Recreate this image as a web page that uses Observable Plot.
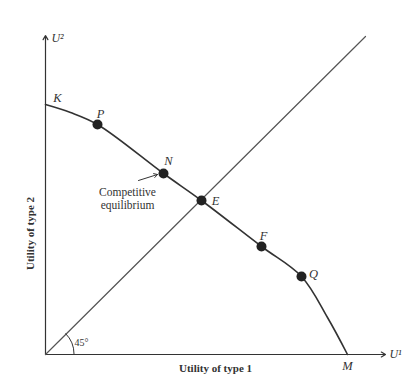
<!DOCTYPE html>
<html>
<head>
<meta charset="utf-8">
<script src="https://cdn.jsdelivr.net/npm/d3@7"></script>
<script src="https://cdn.jsdelivr.net/npm/@observablehq/plot@0.6"></script>
<style>
  html, body { margin: 0; padding: 0; background: #fff; }
</style>
</head>
<body>
<div id="chart"></div>
<script>
// Utility possibility frontier (U1, U2)
const frontierU1 = [0, 25, 52, 118, 156, 216, 256, 282, 302];
const frontierU2 = [250, 242, 230, 181, 154, 108, 78, 37, 0];

// Labelled points on the frontier
const pointNames = ["K", "P", "N", "E", "F", "Q", "M"];
const pointU1 = [0, 52, 118, 156, 216, 256, 302];
const pointU2 = [250, 230, 181, 154, 108, 78, 0];
const pointDot = [false, true, true, true, true, true, false];
const labelDx = [12, 3, 5, 14, 2, 12, 0];
const labelDy = [-7, -11, -13, 0, -11, -3, 11];

// 45-degree line
const diagonalU1 = [0, 320];
const diagonalU2 = [0, 318];

const frontier = frontierU1.map((u, i) => ({u1: u, u2: frontierU2[i]}));
const points = pointNames.map((n, i) => ({name: n, u1: pointU1[i], u2: pointU2[i], dot: pointDot[i], dx: labelDx[i], dy: labelDy[i]}));
const diagonal = diagonalU1.map((u, i) => ({u1: u, u2: diagonalU2[i]}));

const ink = "#333";
const serif = "'Liberation Serif', 'DejaVu Serif', serif";

const plot = Plot.plot({
  width: 404,
  height: 386,
  marginLeft: 45,
  marginRight: 19,
  marginTop: 35,
  marginBottom: 32,
  x: {domain: [0, 340], axis: null},
  y: {domain: [0, 319], axis: null},
  style: {background: "#fff", fontFamily: serif},
  marks: [
    // axes
    Plot.arrow([{x1: 0, y1: 0, x2: 340, y2: 0}], {x1: "x1", y1: "y1", x2: "x2", y2: "y2", stroke: ink, strokeWidth: 1.2, headLength: 6}),
    Plot.arrow([{x1: 0, y1: 0, x2: 0, y2: 319}], {x1: "x1", y1: "y1", x2: "x2", y2: "y2", stroke: ink, strokeWidth: 1.2, headLength: 6}),
    // 45 degree line
    Plot.line(diagonal, {x: "u1", y: "u2", stroke: "#555", strokeWidth: 1.2}),
    // frontier
    Plot.line(frontier, {x: "u1", y: "u2", curve: "catmull-rom", stroke: ink, strokeWidth: 1.6}),
    // points
    Plot.dot(points.filter(d => d.dot), {x: "u1", y: "u2", r: 5, fill: "#222", stroke: "none"}),
    ...points.map(p => Plot.text([p], {x: "u1", y: "u2", text: "name", dx: p.dx, dy: p.dy, fontStyle: "italic", fontSize: 12.5, fill: "#333"})),
    // axis labels
    Plot.text(["U²"], {x: 0, y: 319, text: d => d, dx: 12, dy: 3, fontStyle: "italic", fontSize: 12, fill: "#333"}),
    Plot.text(["U¹"], {x: 340, y: 0, text: d => d, dx: 10, dy: 0, fontStyle: "italic", fontSize: 12, fill: "#333"}),
    Plot.text(["Utility of type 2"], {x: -15, y: 121, text: d => d, rotate: -90, fontSize: 11, fontWeight: "bold", fill: "#333"}),
    Plot.text(["Utility of type 1"], {x: 170, y: -14, text: d => d, fontSize: 11, fontWeight: "bold", fill: "#333"}),
    Plot.text(["45°"], {x: 36, y: 12, text: d => d, fontSize: 10, fill: "#333"}),
    // competitive equilibrium annotation
    Plot.text(["Competitive\nequilibrium"], {x: 82, y: 156, text: d => d, fontSize: 11.5, lineHeight: 1.15, fill: "#333"}),
    Plot.arrow([{x1: 93, y1: 174, x2: 112, y2: 180}], {x1: "x1", y1: "y1", x2: "x2", y2: "y2", stroke: ink, strokeWidth: 1, headLength: 6})
  ]
});

document.getElementById("chart").appendChild(plot);
// 45° arc drawn with the library's scales
const sx = plot.scale("x"), sy = plot.scale("y");
const svg = d3.select(plot);
const r = 29;
const cx = sx.apply(0), cy = sy.apply(0);
svg.append("path")
  .attr("d", `M${cx + r},${cy} A${r},${r} 0 0 0 ${cx + r * Math.cos(Math.PI / 4)},${cy - r * Math.sin(Math.PI / 4)}`)
  .attr("fill", "none").attr("stroke", ink).attr("stroke-width", 1);
</script>
</body>
</html>
